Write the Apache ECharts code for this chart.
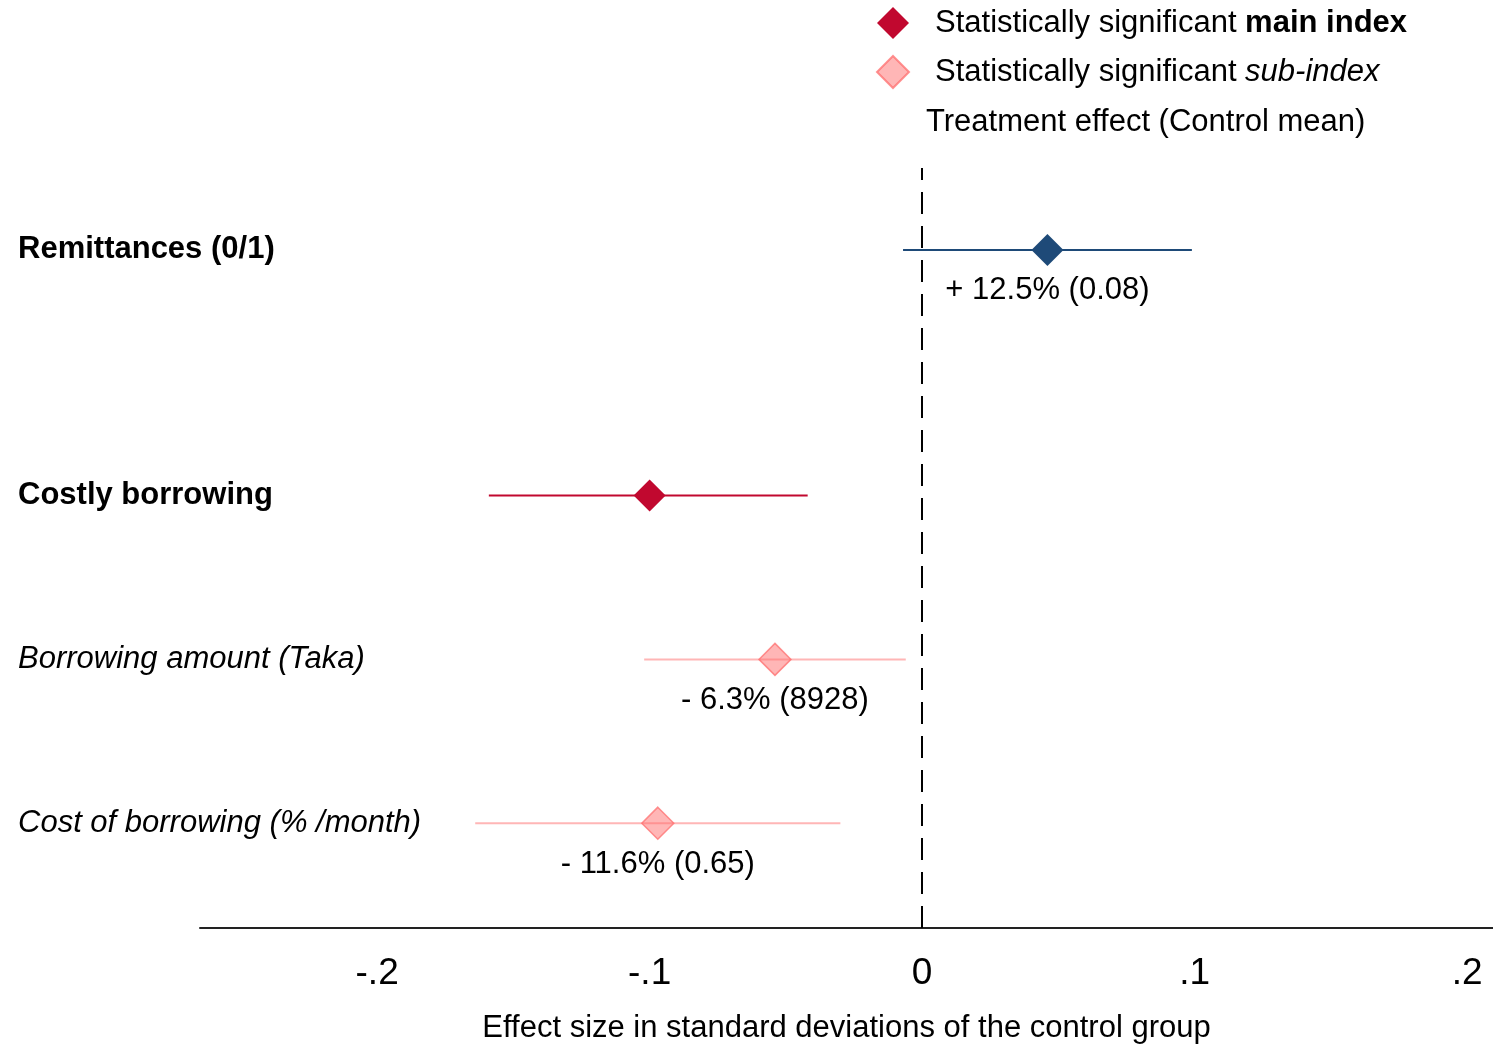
<!DOCTYPE html>
<html>
<head>
<meta charset="utf-8">
<script src="https://cdn.jsdelivr.net/npm/echarts@6/dist/echarts.min.js"></script>
<style>
  html, body { margin: 0; padding: 0; background: #fff; }
  #chart { width: 1493px; height: 1049px; }
</style>
</head>
<body>
<div id="chart"></div>
<script>
// ---- Data ----
const outcomes   = ['Remittances (0/1)', 'Costly borrowing', 'Borrowing amount (Taka)', 'Cost of borrowing (% /month)'];
const rowPos     = [4.5, 3, 2, 1];
const rowType    = ['main', 'main', 'sub', 'sub'];
const effects    = [0.046, -0.100, -0.054, -0.097];
const ciLow      = [-0.007, -0.159, -0.102, -0.164];
const ciHigh     = [0.099, -0.042, -0.006, -0.030];
const annotations = ['+ 12.5% (0.08)', '', '- 6.3% (8928)', '- 11.6% (0.65)'];
const significant = ['none', 'main', 'sub', 'sub'];
const xTicks     = [-0.2, -0.1, 0, 0.1, 0.2];
const xTickLabels = ['-.2', '-.1', '0', '.1', '.2'];

const FONT = '"Liberation Sans", Arial, Helvetica, sans-serif';
const FS = 31;
const NAVY = '#1E4A78';
const RED = '#C1082F';
const PINK_FILL = 'rgba(255,110,110,0.5)';
const PINK_BORDER = 'rgba(255,110,110,0.75)';
const PINK_LINE = 'rgba(255,110,110,0.5)';

function colorFor(i) {
  if (significant[i] === 'main') return RED;
  if (significant[i] === 'sub') return PINK_LINE;
  return NAVY;
}

const ciData = outcomes.map((o, i) => [ciLow[i], ciHigh[i], rowPos[i], i]);

function pointsFor(kind) {
  const out = [];
  outcomes.forEach((o, i) => {
    if (significant[i] === kind) {
      out.push({ value: [effects[i], rowPos[i]], label: { show: annotations[i] !== '', formatter: annotations[i] } });
    }
  });
  return out;
}

const labelMap = {};
outcomes.forEach((o, i) => { labelMap[rowPos[i]] = { text: o, type: rowType[i] }; });

const pointLabel = {
  show: true, position: 'bottom', distance: 9,
  color: '#000', fontSize: FS, fontFamily: FONT, opacity: 1
};

const chart = echarts.init(document.getElementById('chart'), null, { renderer: 'canvas' });

chart.setOption({
  backgroundColor: '#fff',
  animation: false,
  grid: { left: 200, right: 0, top: 168, bottom: 116, containLabel: false },
  legend: {
    orient: 'vertical',
    left: 871, top: 2,
    itemWidth: 32, itemHeight: 32, itemGap: 16,
    icon: 'diamond',
    data: ['Statistically significant main index', 'Statistically significant sub-index'],
    formatter: function (name) {
      if (name.indexOf('main') >= 0) return '{a|Statistically significant }{b|main index}';
      return '{a|Statistically significant }{c|sub-index}';
    },
    textStyle: {
      padding: [0, 0, 0, 21],
      rich: {
        a: { fontSize: FS, fontFamily: FONT, color: '#000' },
        b: { fontSize: FS, fontFamily: FONT, fontWeight: 'bold', color: '#000' },
        c: { fontSize: FS, fontFamily: FONT, fontStyle: 'italic', color: '#000' }
      }
    }
  },
  graphic: [{
    type: 'text', left: 926, top: 107,
    style: { text: 'Treatment effect (Control mean)', font: FS + 'px ' + FONT, fill: '#000' }
  }],
  xAxis: {
    type: 'value', min: -0.265, max: 0.2095,
    axisLine: { show: true, lineStyle: { color: '#222', width: 2 } },
    axisTick: { show: false },
    splitLine: { show: false },
    axisLabel: {
      customValues: xTicks,
      formatter: function (v) {
        const idx = xTicks.findIndex(t => Math.abs(t - v) < 1e-9);
        return idx >= 0 ? xTickLabels[idx] : '';
      },
      fontSize: 37, fontFamily: FONT, color: '#000', margin: 27
    },
    name: 'Effect size in standard deviations of the control group',
    nameLocation: 'middle', nameGap: 85,
    nameTextStyle: { fontSize: FS, fontFamily: FONT, color: '#000' }
  },
  yAxis: {
    type: 'value', min: 0.36, max: 5,
    axisLine: { show: false },
    axisTick: { show: false },
    splitLine: { show: false },
    axisLabel: {
      customValues: rowPos,
      align: 'left', margin: 182,
      formatter: function (v) {
        const m = labelMap[v];
        if (!m) return '';
        return m.type === 'main' ? '{b|' + m.text + '}' : '{i|' + m.text + '}';
      },
      rich: {
        b: { fontSize: FS, fontFamily: FONT, fontWeight: 'bold', color: '#000' },
        i: { fontSize: FS, fontFamily: FONT, fontStyle: 'italic', color: '#000' }
      }
    }
  },
  series: [
    {
      type: 'custom',
      name: 'ci',
      data: ciData,
      renderItem: function (params, api) {
        const p1 = api.coord([api.value(0), api.value(2)]);
        const p2 = api.coord([api.value(1), api.value(2)]);
        const idx = api.value(3);
        return {
          type: 'line',
          shape: { x1: p1[0], y1: p1[1], x2: p2[0], y2: p2[1] },
          style: { stroke: colorFor(idx), lineWidth: 2 }
        };
      },
      markLine: {
        silent: true, symbol: 'none',
        label: { show: false },
        lineStyle: { color: '#000', width: 2, type: [22, 12], opacity: 1 },
        data: [{ xAxis: 0 }]
      },
      z: 1
    },
    {
      type: 'scatter',
      name: 'Treatment effect',
      symbol: 'diamond', symbolSize: 32,
      itemStyle: { color: NAVY, opacity: 1 },
      label: pointLabel,
      data: pointsFor('none'),
      z: 3
    },
    {
      type: 'scatter',
      name: 'Statistically significant main index',
      symbol: 'diamond', symbolSize: 32,
      itemStyle: { color: RED, opacity: 1 },
      label: pointLabel,
      data: pointsFor('main'),
      z: 3
    },
    {
      type: 'scatter',
      name: 'Statistically significant sub-index',
      symbol: 'diamond', symbolSize: 32,
      itemStyle: { color: PINK_FILL, borderColor: PINK_BORDER, borderWidth: 1.5, opacity: 1 },
      label: pointLabel,
      data: pointsFor('sub'),
      z: 3
    }
  ]
});
</script>
</body>
</html>
